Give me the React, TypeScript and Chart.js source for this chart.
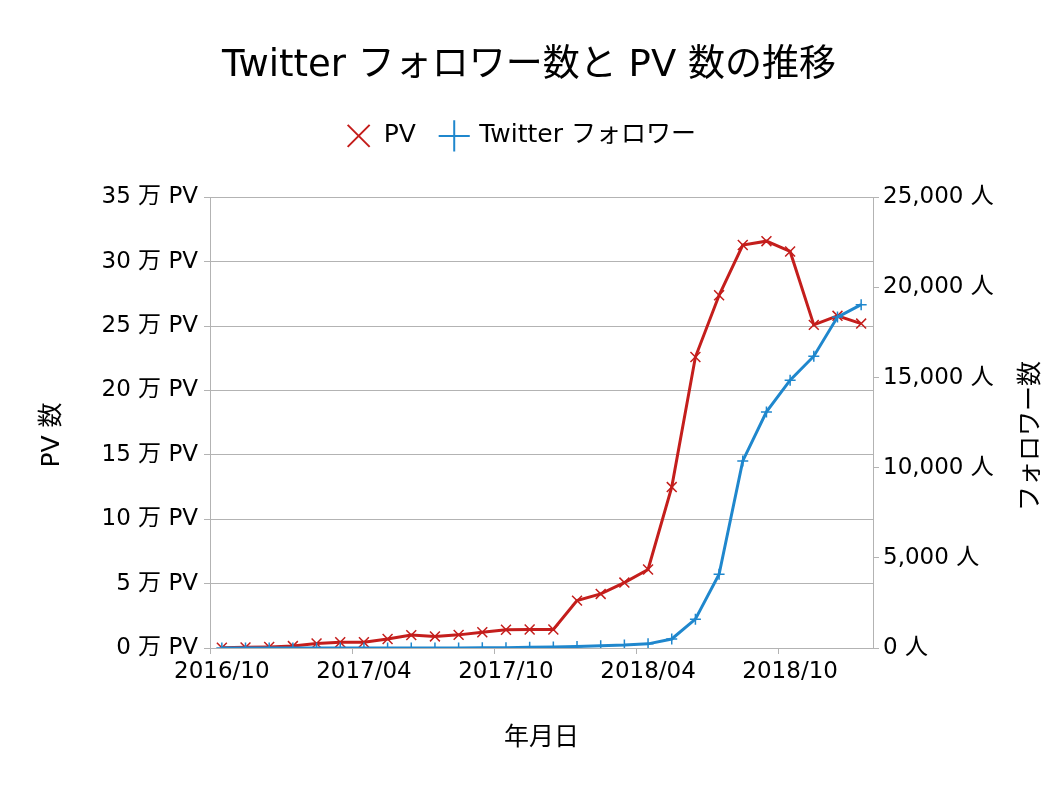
import { useEffect, useRef } from "react";
import { Chart, registerables } from "chart.js";

Chart.register(...registerables);

const months = [
  "2016/10", "2016/11", "2016/12", "2017/01", "2017/02", "2017/03", "2017/04",
  "2017/05", "2017/06", "2017/07", "2017/08", "2017/09", "2017/10", "2017/11",
  "2017/12", "2018/01", "2018/02", "2018/03", "2018/04", "2018/05", "2018/06",
  "2018/07", "2018/08", "2018/09", "2018/10", "2018/11", "2018/12", "2019/01",
];

// PV in units of 万 (10,000)
const pvMan = [
  0.02, 0.05, 0.08, 0.15, 0.35, 0.45, 0.45, 0.7, 1.0, 0.9, 1.02, 1.22, 1.42, 1.44,
  1.44, 3.68, 4.2, 5.08, 6.1, 12.5, 22.6, 27.4, 31.3, 31.6, 30.8, 25.1, 25.8, 25.2,
];

const followers = [
  0, 0, 0, 0, 0, 0, 0, 0, 0, 0, 5, 10, 20, 40, 60, 90, 120, 160, 230, 500, 1600,
  4090, 10380, 13100, 14860, 16190, 18360, 19050,
];

const FONT = "'DejaVu Sans', 'Noto Sans CJK JP', sans-serif";
const RED = "#c41e1c";
const BLUE = "#1f87cd";
const GRID = "#b3b3b3";

const App = () => {
  const canvasRef = useRef<HTMLCanvasElement | null>(null);

  useEffect(() => {
    document.body.style.margin = "0";
    if (!canvasRef.current) return;

    const axisTitles = {
      id: "axisTitles",
      beforeInit(chart: any) {
        const legend = chart.legend;
        if (legend) {
          const fit = legend.fit;
          legend.fit = function () {
            fit.bind(legend)();
            this.height += 39;
          };
        }
      },
      afterDraw(chart: any) {
        const ctx = chart.ctx;
        ctx.save();
        ctx.fillStyle = "#000";
        ctx.font = `25px ${FONT}`;
        ctx.textAlign = "center";
        ctx.textBaseline = "middle";
        ctx.translate(52, 435);
        ctx.rotate(-Math.PI / 2);
        ctx.fillText("PV 数", 0, 0);
        ctx.restore();
        ctx.save();
        ctx.fillStyle = "#000";
        ctx.font = `25px ${FONT}`;
        ctx.textAlign = "center";
        ctx.textBaseline = "middle";
        ctx.translate(1031, 436);
        ctx.rotate(-Math.PI / 2);
        ctx.fillText("フォロワー数", 0, 0);
        ctx.restore();
      },
    };

    const chart = new Chart(canvasRef.current, {
      type: "line",
      data: {
        labels: months,
        datasets: [
          {
            label: "PV",
            data: pvMan,
            yAxisID: "y",
            borderColor: RED,
            backgroundColor: RED,
            borderWidth: 3,
            pointStyle: "crossRot",
            pointRadius: 7,
            pointBorderWidth: 1.5,
            pointBorderColor: RED,
            order: 1,
          },
          {
            label: "Twitter フォロワー",
            data: followers,
            yAxisID: "y1",
            borderColor: BLUE,
            backgroundColor: BLUE,
            borderWidth: 3,
            pointStyle: "cross",
            pointRadius: 5.5,
            pointBorderWidth: 1.5,
            pointBorderColor: BLUE,
            order: 0,
          },
        ],
      },
      options: {
        responsive: false,
        animation: false,
        layout: { padding: 0 },
        plugins: {
          title: {
            display: true,
            text: "Twitter フォロワー数と PV 数の推移",
            color: "#000",
            font: { family: FONT, size: 37, weight: "normal" },
            padding: { top: 44, bottom: 25 },
          },
          legend: {
            display: true,
            labels: {
              usePointStyle: true,
              boxHeight: 22,
              color: "#000",
              font: { family: FONT, size: 25 },
              padding: 10,
              sort: (a: any, b: any) => a.datasetIndex - b.datasetIndex,
              generateLabels: (c: any) =>
                Chart.defaults.plugins.legend.labels
                  .generateLabels(c)
                  .map((l: any) => ({ ...l, lineWidth: 2, text: l.text + "  " })),
            },
          },
          tooltip: { enabled: false },
        },
        scales: {
          x: {
            type: "category",
            offset: true,
            grid: {
              display: true,
              offset: true,
              drawOnChartArea: false,
              drawTicks: true,
              tickLength: 6,
              color: (c: any) => (c.index % 6 === 0 ? GRID : "rgba(0,0,0,0)"),
            },
            border: { color: GRID },
            ticks: {
              autoSkip: false,
              maxRotation: 0,
              minRotation: 0,
              padding: 4,
              color: "#000",
              font: { family: FONT, size: 23 },
              callback: (_v: any, i: number) => (i % 6 === 0 ? months[i] : ""),
            },
            title: {
              display: true,
              text: "年月日",
              color: "#000",
              font: { family: FONT, size: 25 },
              padding: { top: 0, bottom: 41 },
            },
            afterFit: (s: any) => {
              s.height = 146;
            },
          },
          y: {
            position: "left",
            min: 0,
            max: 35,
            ticks: {
              stepSize: 5,
              padding: 6,
              color: "#000",
              font: { family: FONT, size: 23 },
              callback: (v: any) => `${v} 万 PV`,
            },
            grid: { color: GRID, tickLength: 6, drawTicks: true },
            border: { color: GRID },
            afterFit: (s: any) => {
              s.width = 210;
            },
          },
          y1: {
            position: "right",
            min: 0,
            max: 25000,
            ticks: {
              stepSize: 5000,
              padding: 4,
              color: "#000",
              font: { family: FONT, size: 23 },
              callback: (v: any) => `${Number(v).toLocaleString("en-US")} 人`,
            },
            grid: { drawOnChartArea: false, color: GRID, tickLength: 6 },
            border: { color: GRID },
            afterFit: (s: any) => {
              s.width = 185;
            },
          },
        },
      },
      plugins: [axisTitles],
    } as any);

    return () => {
      chart.destroy();
    };
  }, []);

  return (
    <div style={{ width: 1058, height: 794, background: "#fff" }}>
      <canvas ref={canvasRef} width={1058} height={794} style={{ display: "block" }} />
    </div>
  );
};

export default App;
